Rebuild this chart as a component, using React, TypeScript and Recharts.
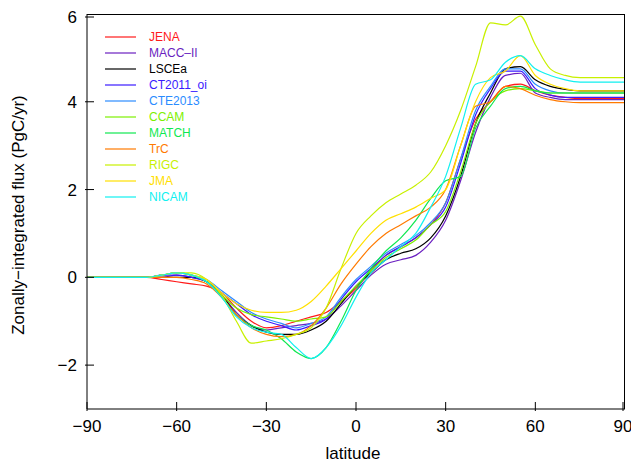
import React from "react";
import { LineChart, Line, XAxis, YAxis } from "recharts";

const lat = [-90,-85,-80,-75,-70,-65,-60,-55,-50,-45,-40,-35,-30,-25,-20,-15,-10,-5,0,5,10,15,20,25,30,35,40,45,50,55,60,65,70,75,80,85,90];
const JENA =   [0,0,0,0,0,-0.05,-0.1,-0.15,-0.2,-0.35,-0.7,-1.0,-1.15,-1.1,-1.0,-0.9,-0.8,-0.55,-0.25,0.15,0.5,0.7,0.9,1.2,1.7,2.7,3.6,4.0,4.35,4.4,4.25,4.15,4.1,4.07,4.07,4.07,4.07];
const MACC =   [0,0,0,0,0,0,0.05,0,-0.1,-0.4,-0.8,-1.1,-1.2,-1.15,-1.1,-1.05,-0.95,-0.65,-0.3,0.05,0.3,0.4,0.5,0.8,1.3,2.2,3.3,4.1,4.6,4.65,4.2,4.1,4.05,4.05,4.05,4.05,4.05];
const LSCE =   [0,0,0,0,0,0,0,0,-0.1,-0.4,-0.85,-1.1,-1.25,-1.3,-1.3,-1.2,-1.0,-0.6,-0.2,0.1,0.4,0.55,0.65,0.9,1.4,2.3,3.5,4.2,4.75,4.8,4.5,4.35,4.28,4.25,4.25,4.25,4.25];
const CT2011 = [0,0,0,0,0,0.05,0.05,0,-0.1,-0.35,-0.6,-0.85,-1.0,-1.1,-1.2,-1.1,-0.95,-0.5,-0.1,0.2,0.5,0.7,0.9,1.2,1.6,2.6,3.7,4.3,4.7,4.7,4.3,4.15,4.1,4.1,4.1,4.1,4.1];
const CTE =    [0,0,0,0,0,0.05,0.1,0.05,-0.05,-0.3,-0.55,-0.8,-0.95,-1.05,-1.15,-1.05,-0.9,-0.45,-0.05,0.25,0.55,0.75,0.95,1.25,1.7,2.7,3.8,4.35,4.75,4.75,4.4,4.25,4.2,4.2,4.2,4.2,4.2];
const CCAM =   [0,0,0,0,0,0.05,0.1,0.05,-0.1,-0.4,-0.7,-0.85,-0.9,-0.95,-1.0,-0.95,-0.9,-0.55,-0.2,0.15,0.45,0.65,0.85,1.2,1.5,2.4,3.5,4.0,4.25,4.3,4.25,4.2,4.2,4.2,4.2,4.2,4.2];
const MATCH =  [0,0,0,0,0,0.05,0.1,0.05,-0.1,-0.45,-0.85,-1.1,-1.2,-1.4,-1.7,-1.85,-1.6,-1.0,-0.3,0.2,0.6,0.9,1.3,1.8,2.2,2.3,3.4,3.9,4.3,4.35,4.25,4.2,4.2,4.2,4.2,4.2,4.2];
const TrC =    [0,0,0,0,0,0,0,-0.05,-0.15,-0.45,-0.85,-1.15,-1.3,-1.35,-1.3,-1.1,-0.7,-0.15,0.3,0.7,1.0,1.2,1.4,1.6,2.0,3.0,3.9,4.0,4.35,4.3,4.15,4.05,4.0,3.98,3.98,3.98,3.98];
const RIGC =   [0,0,0,0,0,0.05,0.1,0.1,-0.05,-0.4,-1.0,-1.5,-1.45,-1.4,-1.3,-1.15,-0.7,0.2,1.0,1.4,1.7,1.9,2.1,2.4,3.0,3.8,4.8,5.8,5.75,5.95,5.3,4.75,4.6,4.55,4.55,4.55,4.55];
const JMA =    [0,0,0,0,0,0.05,0.1,0.05,-0.05,-0.35,-0.6,-0.75,-0.8,-0.8,-0.75,-0.55,-0.2,0.2,0.6,1.0,1.3,1.45,1.6,1.8,2.0,3.0,4.0,4.55,4.7,5.05,4.6,4.4,4.3,4.25,4.25,4.25,4.25];
const NICAM =  [0,0,0,0,0,0.05,0.1,0.05,-0.1,-0.45,-0.9,-1.15,-1.25,-1.3,-1.6,-1.85,-1.6,-1.1,-0.45,0.1,0.4,0.7,1.0,1.6,2.3,3.4,4.4,4.5,4.9,5.05,4.75,4.6,4.5,4.45,4.45,4.45,4.45];

const series = [
  { key: "JENA", name: "JENA", color: "#ff1a1a", vals: JENA },
  { key: "MACC", name: "MACC\u2013II", color: "#6a1fc0", vals: MACC },
  { key: "LSCE", name: "LSCEa", color: "#000000", vals: LSCE },
  { key: "CT2011", name: "CT2011_oi", color: "#3a1aff", vals: CT2011 },
  { key: "CTE", name: "CTE2013", color: "#2a8cff", vals: CTE },
  { key: "CCAM", name: "CCAM", color: "#7cf000", vals: CCAM },
  { key: "MATCH", name: "MATCH", color: "#10e850", vals: MATCH },
  { key: "TrC", name: "TrC", color: "#ff7a00", vals: TrC },
  { key: "RIGC", name: "RIGC", color: "#c8f000", vals: RIGC },
  { key: "JMA", name: "JMA", color: "#ffe000", vals: JMA },
  { key: "NICAM", name: "NICAM", color: "#10f0f0", vals: NICAM },
];

const data = lat.map((l, i) => {
  const row: any = { lat: l };
  series.forEach((s) => (row[s.key] = s.vals[i]));
  return row;
});

const xTicks = [-90, -60, -30, 0, 30, 60, 90];
const yTicks = [-2, 0, 2, 4, 6];
const font = "Liberation Sans";
const fmt = (v: number) => (v < 0 ? "\u2212" + Math.abs(v) : String(v));

const XTick = (p: any) => (
  <g>
    <line x1={p.x} x2={p.x} y1={p.y} y2={p.y - 9} stroke="#000" />
    <text x={p.x} y={p.y + 21} textAnchor="middle" fontSize={17} fontFamily={font}>{fmt(p.payload.value)}</text>
  </g>
);
const YTick = (p: any) => (
  <g>
    <line x1={p.x} x2={p.x + 9} y1={p.y} y2={p.y} stroke="#000" />
    <text x={p.x - 8} y={p.y + 6} textAnchor="end" fontSize={17} fontFamily={font}>{fmt(p.payload.value)}</text>
  </g>
);

const W = 623, H = 454, M = { top: 6, right: 6, left: 19, bottom: 13 }, YW = 60, XH = 40;

export default function App() {
  const px0 = M.left + YW, px1 = W - M.right, py0 = M.top, py1 = H - M.bottom - XH;
  return (
    <div style={{ position: "relative", width: W, height: H }}>
      <LineChart width={W} height={H} data={data} margin={M}>
        <XAxis dataKey="lat" type="number" domain={[-90, 90]} ticks={xTicks} tickSize={0} tickLine={false} tick={<XTick />} stroke="#000" height={XH} />
        <YAxis type="number" domain={[-3, 6]} ticks={yTicks} tickSize={0} tickLine={false} tick={<YTick />} stroke="#000" width={YW} />
        {series.map((s) => (
          <Line key={s.key} dataKey={s.key} type="monotone" stroke={s.color} strokeWidth={1.2} dot={false} isAnimationActive={false} />
        ))}
      </LineChart>
      <div style={{ position: "absolute", left: px0, top: py0, width: px1 - px0, height: py1 - py0, borderTop: "1px solid #000", borderRight: "1px solid #000", boxSizing: "border-box", pointerEvents: "none" }} />
      <svg width={W} height={H} style={{ position: "absolute", left: 0, top: 0 }}>
        {series.map((s, i) => (
          <g key={s.key}>
            <line x1={97} x2={128} y1={29 + i * 16} y2={29 + i * 16} stroke={s.color} strokeWidth={1.2} />
            <text x={141} y={33 + i * 16} fill={s.color} fontSize={12} fontFamily={font}>{s.name}</text>
          </g>
        ))}
        <text x={16} y={207} transform="rotate(-90 16 207)" textAnchor="middle" fontSize={17} fontFamily={font}>Zonally−integrated flux (PgC/yr)</text>
        <text x={345} y={451} textAnchor="middle" fontSize={17} fontFamily={font}>latitude</text>
      </svg>
    </div>
  );
}
